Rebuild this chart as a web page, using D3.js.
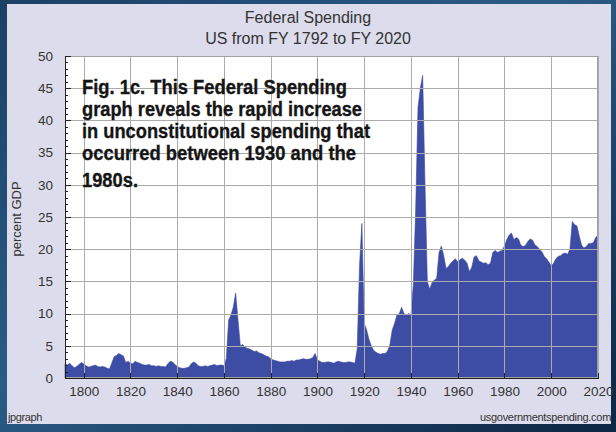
<!DOCTYPE html>
<html>
<head>
<meta charset="utf-8">
<script src="https://cdn.jsdelivr.net/npm/d3@7"></script>
<style>
html,body{margin:0;padding:0;background:#1a3d60;}
svg{display:block;}
</style>
</head>
<body>
<svg id="chart" width="616" height="432"></svg>
<script>
// ---- Data (percent of GDP, FY 1792 .. FY 2020) ----
const firstYear = 1792;
const lastYear = 2020;
const spending = [
  2.2, 2.0, 2.3, 1.9, 1.6, 1.8, 2.1, 2.4,                 // 1792-1799
  2.2, 1.9, 1.7, 1.8, 1.9, 2.0, 1.8, 1.7, 1.8, 1.7,       // 1800s
  1.5, 1.4, 2.3, 3.3, 3.5, 3.8, 3.6, 3.4, 2.4, 2.6,       // 1810s
  2.3, 2.2, 2.6, 2.4, 2.3, 2.1, 2.0, 2.0, 2.1, 1.9,       // 1820s
  1.9, 1.8, 1.9, 1.8, 1.8, 1.7, 2.2, 2.6, 2.5, 2.1,       // 1830s
  1.8, 1.6, 1.5, 1.5, 1.6, 1.7, 2.2, 2.5, 2.3, 1.9,       // 1840s
  1.8, 1.8, 1.9, 1.8, 1.9, 2.0, 2.1, 1.9, 2.0, 2.0,       // 1850s
  1.9, 3.0, 9.0, 9.8, 11.0, 13.2, 9.0, 5.0, 5.2, 4.8,     // 1860s
  4.6, 4.5, 4.3, 4.1, 4.2, 3.9, 3.8, 3.6, 3.4, 3.3,       // 1870s
  3.0, 2.8, 2.7, 2.6, 2.5, 2.5, 2.5, 2.6, 2.6, 2.7,       // 1880s
  2.6, 2.8, 2.8, 2.9, 3.0, 2.9, 2.9, 3.0, 3.2, 3.8,       // 1890s
  2.8, 2.6, 2.4, 2.4, 2.5, 2.5, 2.4, 2.3, 2.5, 2.6,       // 1900s
  2.5, 2.4, 2.4, 2.5, 2.5, 2.4, 2.3, 4.5, 17.5, 24.0,     // 1910s
  8.5, 7.5, 6.0, 5.0, 4.3, 4.0, 3.8, 3.7, 3.8, 3.8,       // 1920s
  4.2, 5.2, 7.5, 8.5, 9.8, 10.0, 11.0, 10.0, 9.8, 10.0,   // 1930s
  9.8, 14.5, 26.0, 42.0, 45.0, 47.0, 30.0, 15.0, 13.8, 14.8, // 1940s
  15.2, 15.5, 19.5, 20.5, 19.0, 17.0, 17.3, 17.8, 18.2, 18.5, // 1950s
  18.0, 18.4, 18.6, 18.3, 17.8, 16.5, 17.2, 18.8, 19.0, 18.2, // 1960s
  18.0, 17.8, 17.9, 17.6, 17.8, 19.5, 19.8, 19.5, 19.7, 19.8, // 1970s
  20.5, 21.5, 22.2, 22.5, 21.5, 21.8, 21.6, 20.6, 20.4, 20.6, // 1980s
  21.2, 21.6, 21.4, 20.7, 20.4, 20.0, 19.6, 18.9, 18.5, 18.0, // 1990s
  17.4, 17.8, 18.5, 18.9, 19.0, 19.3, 19.4, 19.2, 20.0, 24.3, // 2000s
  23.8, 23.6, 22.0, 20.6, 20.2, 20.4, 20.9, 20.9, 21.0, 21.8, // 2010s
  22.2                                                     // 2020
];
const xTickLabels = [1800, 1820, 1840, 1860, 1880, 1900, 1920, 1940, 1960, 1980, 2000, 2020];
const yTickLabels = [0, 5, 10, 15, 20, 25, 30, 35, 40, 45, 50];
const titleLines = ["Federal Spending", "US from FY 1792 to FY 2020"];
const yAxisTitle = "percent GDP";
const noteLines = [
  "Fig. 1c. This Federal Spending",
  "graph reveals the rapid increase",
  "in unconstitutional spending that",
  "occurred between 1930 and the",
  "1980s."
];
const creditLeft = "jpgraph";
const creditRight = "usgovernmentspending.com";

const data = spending.map((v, i) => ({year: firstYear + i, value: v}));

// ---- Layout ----
const W = 616, H = 432;
const plot = {left: 65, right: 598, top: 56, bottom: 378};
const svg = d3.select("#chart");
const font = "'Liberation Sans', Arial, Helvetica, sans-serif";

// Outer frame gradient
const defs = svg.append("defs");
const g1 = defs.append("linearGradient").attr("id", "frame").attr("x1", 0).attr("y1", 0).attr("x2", 1).attr("y2", 1);
g1.append("stop").attr("offset", "0%").attr("stop-color", "#1b4066");
g1.append("stop").attr("offset", "45%").attr("stop-color", "#2a5c86");
g1.append("stop").attr("offset", "100%").attr("stop-color", "#0c2542");
svg.append("rect").attr("width", W).attr("height", H).attr("fill", "url(#frame)");

// Inner panel
svg.append("rect").attr("x", 7).attr("y", 4).attr("width", 604).attr("height", 420)
  .attr("fill", "#dcdcec");

// Scales
const x = d3.scaleLinear().domain([firstYear, lastYear]).range([plot.left, plot.right]);
const y = d3.scaleLinear().domain([0, 50]).range([plot.bottom, plot.top]);

// Plot background
svg.append("rect").attr("x", plot.left).attr("y", plot.top)
  .attr("width", plot.right - plot.left).attr("height", plot.bottom - plot.top)
  .attr("fill", "#ffffff");

// Area
const area = d3.area().x(d => x(d.year)).y0(y(0)).y1(d => y(d.value)).curve(d3.curveLinear);
svg.append("path").datum(data).attr("d", area).attr("fill", "#3d4ca4").attr("stroke", "#3a4aa0").attr("stroke-width", 0.6);

// Gridlines (drawn over area)
const gridY = svg.append("g").attr("transform", `translate(${plot.left},0)`)
  .call(d3.axisLeft(y).tickValues(yTickLabels).tickSize(-(plot.right - plot.left)).tickFormat(""));
gridY.select(".domain").remove();
gridY.selectAll("line").attr("stroke", "#ababab").attr("stroke-width", 1).attr("shape-rendering", "crispEdges");

const gridX = svg.append("g").attr("transform", `translate(0,${plot.bottom})`)
  .call(d3.axisBottom(x).tickValues(xTickLabels).tickSize(-(plot.bottom - plot.top)).tickFormat(""));
gridX.select(".domain").remove();
gridX.selectAll("line").attr("stroke", "#ababab").attr("stroke-width", 1).attr("shape-rendering", "crispEdges");

// Plot border
svg.append("rect").attr("x", plot.left + 0.5).attr("y", plot.top + 0.5)
  .attr("width", plot.right - plot.left - 1).attr("height", plot.bottom - plot.top - 1)
  .attr("fill", "none").attr("stroke", "#a0a0a0");

// Y axis: labels
const yAxisG = svg.append("g").attr("transform", `translate(${plot.left},0)`)
  .call(d3.axisLeft(y).tickValues(yTickLabels).tickSize(0).tickPadding(12));
yAxisG.select(".domain").attr("stroke", "#222").attr("shape-rendering", "crispEdges");
yAxisG.selectAll("text").attr("font-family", font).attr("font-size", 13.5).attr("fill", "#333");

// Y axis inward ticks (minor every 1, major every 5)
const minorY = svg.append("g").attr("transform", `translate(${plot.left},0)`)
  .call(d3.axisRight(y).tickValues(d3.range(0, 51, 1)).tickSize(3).tickFormat(""));
minorY.select(".domain").remove();
minorY.selectAll("line").attr("stroke", "#222").attr("shape-rendering", "crispEdges");
const majorY = svg.append("g").attr("transform", `translate(${plot.left},0)`)
  .call(d3.axisRight(y).tickValues(yTickLabels).tickSize(6).tickFormat(""));
majorY.select(".domain").remove();
majorY.selectAll("line").attr("stroke", "#222").attr("shape-rendering", "crispEdges");

// X axis
const xAxisG = svg.append("g").attr("transform", `translate(0,${plot.bottom})`)
  .call(d3.axisBottom(x).tickValues(xTickLabels).tickSize(0).tickPadding(8).tickFormat(d3.format("d")));
xAxisG.select(".domain").attr("stroke", "#222").attr("shape-rendering", "crispEdges");
xAxisG.selectAll("text").attr("font-family", font).attr("font-size", 13.5).attr("fill", "#333");
const majorX = svg.append("g").attr("transform", `translate(0,${plot.bottom})`)
  .call(d3.axisTop(x).tickValues(xTickLabels).tickSize(5).tickFormat(""));
majorX.select(".domain").remove();
majorX.selectAll("line").attr("stroke", "#222").attr("shape-rendering", "crispEdges");

// Titles
svg.selectAll("text.title").data(titleLines).enter().append("text")
  .attr("class", "title")
  .attr("x", W / 2).attr("y", (d, i) => 23 + i * 21)
  .attr("text-anchor", "middle")
  .attr("font-family", font).attr("font-size", 16).attr("fill", "#333")
  .text(d => d);

// Y axis title
svg.append("text")
  .attr("transform", `translate(21,${(plot.top + plot.bottom) / 2 + 2}) rotate(-90)`)
  .attr("text-anchor", "middle")
  .attr("font-family", font).attr("font-size", 13).attr("fill", "#333")
  .text(yAxisTitle);

// Credits
svg.append("text").attr("x", 8).attr("y", 421)
  .attr("font-family", font).attr("font-size", 11).attr("letter-spacing", -0.4).attr("fill", "#333")
  .text(creditLeft);
svg.append("text").attr("x", 611).attr("y", 421).attr("text-anchor", "end")
  .attr("font-family", font).attr("font-size", 11).attr("letter-spacing", -0.3).attr("fill", "#333")
  .text(creditRight);

// Annotation (bold, condensed look)
const noteBaselines = [94, 116, 138, 160, 187];
const noteWidths = [265, 280, 288, 274, 56];
svg.selectAll("text.note").data(noteLines).enter().append("text")
  .attr("class", "note")
  .attr("x", 82).attr("y", (d, i) => noteBaselines[i])
  .attr("font-family", "'Liberation Sans', Arial, sans-serif")
  .attr("font-weight", "bold").attr("font-size", 20).attr("fill", "#151515")
  .attr("stroke", "#151515").attr("stroke-width", 0.35)
  .attr("textLength", (d, i) => noteWidths[i]).attr("lengthAdjust", "spacingAndGlyphs")
  .text(d => d);
</script>
</body>
</html>
